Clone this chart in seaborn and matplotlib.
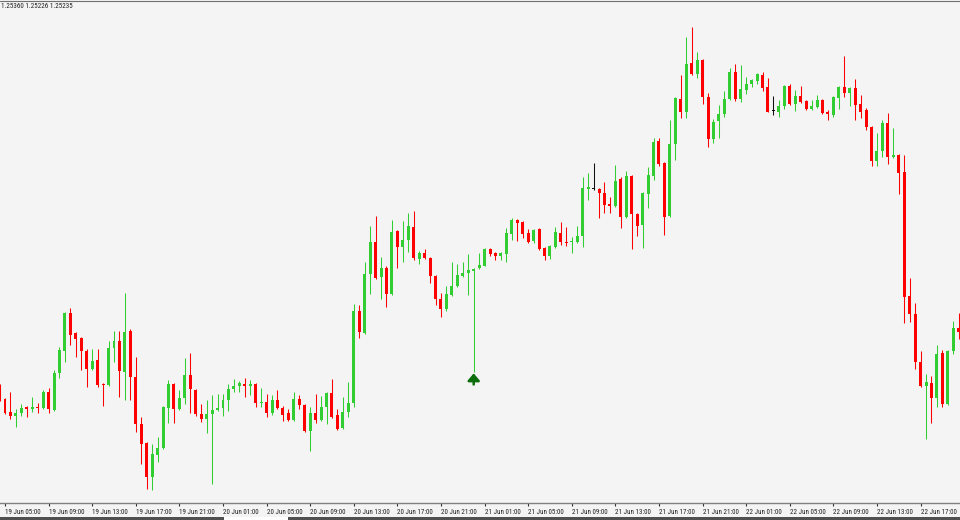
import numpy as np
import pandas as pd
import matplotlib
matplotlib.use("Agg")
import matplotlib.pyplot as plt
from matplotlib import font_manager
from matplotlib.lines import Line2D
from matplotlib.patches import Rectangle
import seaborn as sns

# M30 bars, first (partly hidden) bar opens 19 Jun 04:30
start_time = "2017-06-19 04:30"

opens = [
    1.2614, 1.2601, 1.2588, 1.2584, 1.2587, 1.2593, 1.2591, 1.2593, 1.2592, 1.2608,
    1.2590, 1.2627, 1.2649, 1.2687, 1.2667, 1.2662, 1.2649, 1.2631, 1.2640, 1.2616,
    1.2615, 1.2652, 1.2659, 1.2628, 1.2669, 1.2623, 1.2576, 1.2557, 1.2523, 1.2545,
    1.2552, 1.2592, 1.2616, 1.2591, 1.2602, 1.2625, 1.2610, 1.2586, 1.2581, 1.2586,
    1.2590, 1.2592, 1.2600, 1.2611, 1.2614, 1.2616, 1.2614, 1.2616, 1.2597, 1.2598,
    1.2587, 1.2600, 1.2592, 1.2587, 1.2580, 1.2601, 1.2595, 1.2569, 1.2587, 1.2580,
    1.2593, 1.2607, 1.2585, 1.2572, 1.2588, 1.2597, 1.2689, 1.2667, 1.2726, 1.2758,
    1.2723, 1.2732, 1.2706, 1.2769, 1.2753, 1.2760, 1.2773, 1.2741, 1.2747, 1.2742,
    1.2724, 1.2701, 1.2691, 1.2705, 1.2714, 1.2724, 1.2727, 1.2729, 1.2732, 1.2734,
    1.2751, 1.2747, 1.2744, 1.2746, 1.2766, 1.2780, 1.2778, 1.2767, 1.2759, 1.2771,
    1.2752, 1.2744, 1.2753, 1.2767, 1.2758, 1.2758, 1.2758, 1.2764, 1.2811, 1.2811,
    1.2811, 1.2807, 1.2796, 1.2794, 1.2821, 1.2783, 1.2824, 1.2786, 1.2775, 1.2806,
    1.2824, 1.2859, 1.2837, 1.2784, 1.2856, 1.2901, 1.2888, 1.2937, 1.2926, 1.2940,
    1.2903, 1.2861, 1.2879, 1.2886, 1.2901, 1.2928, 1.2901, 1.2910, 1.2916, 1.2919,
    1.2925, 1.2913, 1.2889, 1.2888, 1.2894, 1.2914, 1.2896, 1.2904, 1.2899, 1.2891,
    1.2893, 1.2900, 1.2888, 1.2885, 1.2902, 1.2913, 1.2907, 1.2912, 1.2896, 1.2890,
    1.2873, 1.2839, 1.2849, 1.2877, 1.2843, 1.2845, 1.2828, 1.2704, 1.2686, 1.2638,
    1.2614, 1.2617, 1.2602, 1.2647, 1.2596, 1.2649, 1.2672,
]
highs = [
    1.2616, 1.2602, 1.2608, 1.2591, 1.2596, 1.2594, 1.2603, 1.2597, 1.2610, 1.2612,
    1.2630, 1.2653, 1.2688, 1.2692, 1.2668, 1.2663, 1.2651, 1.2651, 1.2651, 1.2617,
    1.2659, 1.2669, 1.2669, 1.2707, 1.2671, 1.2643, 1.2583, 1.2558, 1.2556, 1.2563,
    1.2594, 1.2620, 1.2617, 1.2610, 1.2642, 1.2647, 1.2611, 1.2596, 1.2600, 1.2605,
    1.2606, 1.2606, 1.2616, 1.2621, 1.2619, 1.2622, 1.2620, 1.2617, 1.2612, 1.2606,
    1.2605, 1.2610, 1.2594, 1.2591, 1.2608, 1.2605, 1.2596, 1.2593, 1.2606, 1.2604,
    1.2608, 1.2621, 1.2591, 1.2603, 1.2618, 1.2696, 1.2695, 1.2738, 1.2774, 1.2784,
    1.2743, 1.2734, 1.2780, 1.2770, 1.2779, 1.2787, 1.2789, 1.2749, 1.2751, 1.2743,
    1.2725, 1.2707, 1.2714, 1.2738, 1.2736, 1.2738, 1.2746, 1.2732, 1.2747, 1.2752,
    1.2752, 1.2748, 1.2748, 1.2772, 1.2782, 1.2781, 1.2779, 1.2771, 1.2771, 1.2772,
    1.2753, 1.2755, 1.2773, 1.2778, 1.2773, 1.2763, 1.2774, 1.2823, 1.2827, 1.2837,
    1.2812, 1.2818, 1.2803, 1.2835, 1.2823, 1.2829, 1.2825, 1.2787, 1.2808, 1.2833,
    1.2862, 1.2862, 1.2838, 1.2880, 1.2903, 1.2925, 1.2963, 1.2973, 1.2948, 1.2941,
    1.2907, 1.2881, 1.2895, 1.2909, 1.2932, 1.2936, 1.2935, 1.2923, 1.2921, 1.2927,
    1.2928, 1.2922, 1.2904, 1.2900, 1.2915, 1.2916, 1.2910, 1.2914, 1.2900, 1.2900,
    1.2905, 1.2901, 1.2890, 1.2904, 1.2914, 1.2944, 1.2913, 1.2921, 1.2905, 1.2892,
    1.2874, 1.2867, 1.2880, 1.2887, 1.2872, 1.2846, 1.2845, 1.2722, 1.2697, 1.2649,
    1.2626, 1.2624, 1.2655, 1.2650, 1.2650, 1.2679, 1.2687,
]
lows = [
    1.2599, 1.2586, 1.2581, 1.2573, 1.2584, 1.2583, 1.2588, 1.2587, 1.2591, 1.2587,
    1.2589, 1.2622, 1.2638, 1.2655, 1.2643, 1.2630, 1.2613, 1.2630, 1.2613, 1.2594,
    1.2614, 1.2638, 1.2603, 1.2600, 1.2600, 1.2568, 1.2536, 1.2511, 1.2510, 1.2538,
    1.2551, 1.2577, 1.2577, 1.2590, 1.2596, 1.2587, 1.2584, 1.2578, 1.2567, 1.2516,
    1.2589, 1.2584, 1.2589, 1.2608, 1.2608, 1.2603, 1.2605, 1.2593, 1.2593, 1.2583,
    1.2585, 1.2591, 1.2579, 1.2579, 1.2579, 1.2591, 1.2568, 1.2549, 1.2577, 1.2579,
    1.2576, 1.2582, 1.2570, 1.2571, 1.2583, 1.2593, 1.2662, 1.2666, 1.2706, 1.2721,
    1.2701, 1.2693, 1.2705, 1.2732, 1.2738, 1.2748, 1.2740, 1.2736, 1.2741, 1.2717,
    1.2695, 1.2683, 1.2689, 1.2704, 1.2713, 1.2723, 1.2705, 1.2628, 1.2731, 1.2734,
    1.2744, 1.2740, 1.2740, 1.2738, 1.2760, 1.2759, 1.2762, 1.2757, 1.2757, 1.2750,
    1.2740, 1.2741, 1.2752, 1.2755, 1.2754, 1.2747, 1.2757, 1.2753, 1.2800, 1.2810,
    1.2782, 1.2787, 1.2787, 1.2793, 1.2772, 1.2782, 1.2751, 1.2764, 1.2752, 1.2792,
    1.2820, 1.2834, 1.2765, 1.2783, 1.2840, 1.2882, 1.2882, 1.2925, 1.2922, 1.2896,
    1.2853, 1.2857, 1.2862, 1.2883, 1.2900, 1.2899, 1.2898, 1.2906, 1.2913, 1.2916,
    1.2909, 1.2888, 1.2885, 1.2883, 1.2891, 1.2895, 1.2889, 1.2897, 1.2890, 1.2890,
    1.2892, 1.2886, 1.2880, 1.2883, 1.2891, 1.2903, 1.2894, 1.2880, 1.2882, 1.2870,
    1.2834, 1.2834, 1.2843, 1.2836, 1.2842, 1.2806, 1.2677, 1.2678, 1.2631, 1.2613,
    1.2561, 1.2577, 1.2593, 1.2593, 1.2595, 1.2646, 1.2661,
]
closes = [
    1.2601, 1.2587, 1.2584, 1.2587, 1.2592, 1.2591, 1.2593, 1.2592, 1.2608, 1.2591,
    1.2627, 1.2650, 1.2687, 1.2665, 1.2661, 1.2649, 1.2631, 1.2639, 1.2615, 1.2615,
    1.2652, 1.2659, 1.2629, 1.2668, 1.2623, 1.2576, 1.2556, 1.2523, 1.2546, 1.2552,
    1.2593, 1.2616, 1.2591, 1.2602, 1.2625, 1.2611, 1.2586, 1.2581, 1.2586, 1.2590,
    1.2592, 1.2600, 1.2611, 1.2614, 1.2617, 1.2614, 1.2616, 1.2597, 1.2598, 1.2587,
    1.2600, 1.2592, 1.2585, 1.2580, 1.2601, 1.2595, 1.2569, 1.2587, 1.2580, 1.2593,
    1.2607, 1.2583, 1.2571, 1.2588, 1.2597, 1.2689, 1.2668, 1.2726, 1.2758, 1.2722,
    1.2732, 1.2706, 1.2768, 1.2753, 1.2760, 1.2774, 1.2742, 1.2747, 1.2742, 1.2724,
    1.2701, 1.2691, 1.2706, 1.2714, 1.2725, 1.2727, 1.2730, 1.2731, 1.2735, 1.2751,
    1.2746, 1.2744, 1.2747, 1.2767, 1.2780, 1.2777, 1.2766, 1.2758, 1.2770, 1.2751,
    1.2744, 1.2754, 1.2768, 1.2758, 1.2757, 1.2759, 1.2764, 1.2812, 1.2813, 1.2811,
    1.2807, 1.2795, 1.2794, 1.2819, 1.2783, 1.2824, 1.2786, 1.2774, 1.2807, 1.2825,
    1.2858, 1.2836, 1.2783, 1.2856, 1.2902, 1.2888, 1.2936, 1.2926, 1.2940, 1.2903,
    1.2861, 1.2878, 1.2886, 1.2901, 1.2928, 1.2901, 1.2911, 1.2916, 1.2920, 1.2926,
    1.2912, 1.2888, 1.2889, 1.2894, 1.2914, 1.2896, 1.2904, 1.2898, 1.2891, 1.2894,
    1.2900, 1.2887, 1.2886, 1.2903, 1.2913, 1.2907, 1.2912, 1.2895, 1.2888, 1.2873,
    1.2839, 1.2849, 1.2877, 1.2843, 1.2845, 1.2827, 1.2703, 1.2686, 1.2638, 1.2614,
    1.2618, 1.2602, 1.2646, 1.2596, 1.2649, 1.2672, 1.2668,
]

signal_bar = 87          # buy arrow drawn under this bar
header_text = "1.25360 1.25226 1.25235"

BULL = "#32CD32"
BEAR = "#FF0000"
DOJI = "#101010"
BG = "#F4F4F4"

df = pd.DataFrame({"open": opens, "high": highs, "low": lows, "close": closes})
df["time"] = pd.date_range(start_time, periods=len(df), freq="30min")
df["pos"] = np.arange(len(df))
df["color"] = np.where(df.close > df.open, BULL, np.where(df.close < df.open, BEAR, DOJI))

sns.set_theme(style="ticks", rc={"axes.facecolor": BG, "figure.facecolor": BG})

# MT4 uses a small narrow font; take the narrowest one that is installed
installed = {f.name for f in font_manager.fontManager.ttflist}
label_font, label_size = "Liberation Sans", 4.6
for name, size in [("Liberation Sans Narrow", 5.3), ("DejaVu Sans Condensed", 4.9),
                   ("Roboto Condensed", 5.0), ("Liberation Sans", 4.6)]:
    if name in installed:
        label_font, label_size = name, size
        break
plt.rcParams["font.family"] = [label_font, "DejaVu Sans"]

fig = plt.figure(figsize=(9.6, 5.2), dpi=100)
ax = fig.add_axes([0, 17 / 520, 1, 502 / 520])

# wicks + bodies
ax.vlines(df.pos, df.low, df.high, colors=df.color, linewidth=0.75)
body_low = df[["open", "close"]].min(axis=1)
body_h = (df.close - df.open).abs().clip(lower=0.0001)
ax.bar(df.pos, body_h, bottom=body_low, width=0.55, color=df.color, linewidth=0)

# buy signal arrow
sig = df.loc[signal_bar]
ax.annotate("", xy=(sig.pos, sig.low), xytext=(0, -9), textcoords="offset points",
            arrowprops=dict(arrowstyle="-|>,head_width=0.3,head_length=0.35",
                            color="#0B6E0B", lw=1.8, shrinkA=0, shrinkB=1))

ax.set_xlim(0.0826, 176.23)
ax.set_ylim(1.2497, 1.2999)
ax.set_yticks([])

ticks = df[(df.time.dt.minute == 0) & (df.time.dt.hour % 4 == 1)]
ax.set_xticks(ticks.pos)
ax.set_xticklabels(ticks.time.dt.strftime("%d %b %H:%M"), ha="left",
                   fontsize=label_size, color="#202020")
ax.tick_params(axis="x", direction="out", length=2.5, width=0.8, pad=1.5, colors="#303030",
               labelcolor="#202020")
sns.despine(ax=ax, left=True, top=True, right=True)
ax.spines["bottom"].set_color("#808080")
ax.spines["bottom"].set_linewidth(1.0)

# header OHLC text, top frame line, bottom tab strip
fig.text(1 / 960, 1 - 7 / 520, header_text, fontsize=label_size, va="center", ha="left",
         color="#202020")
fig.add_artist(Line2D([0, 1], [1 - 0.5 / 520] * 2, color="#707070", lw=0.8))
fig.add_artist(Rectangle((0, 0), 1, 3 / 520, transform=fig.transFigure, color="#505050", lw=0))
fig.add_artist(Rectangle((224 / 960, 0), 64 / 960, 3 / 520, transform=fig.transFigure,
                         color="#FFFFFF", lw=0))

fig.savefig("out.png", dpi=100, facecolor=fig.get_facecolor())
